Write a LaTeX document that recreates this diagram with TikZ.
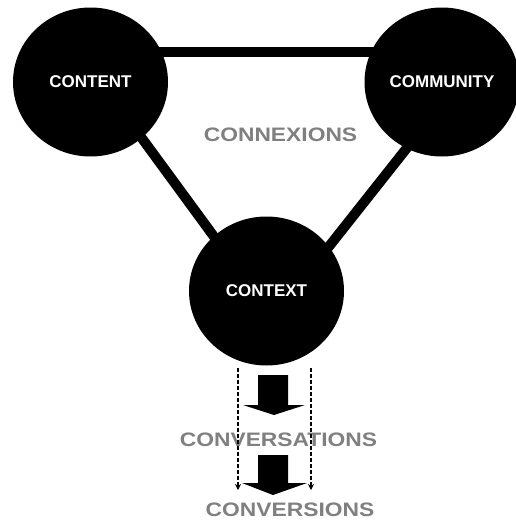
\documentclass[tikz,border=0pt]{standalone}
\usepackage{fontspec}
\setmainfont{Liberation Sans}
\usetikzlibrary{shapes.geometric,arrows.meta,backgrounds}
\definecolor{labelgray}{RGB}{128,128,128}
\begin{document}
\begin{tikzpicture}[x=1pt,y=-1pt,
  hub/.style={ellipse, fill=black, minimum width=155pt, minimum height=149pt,
    inner sep=0pt, text=white, font=\fontsize{17}{17}\selectfont\bfseries},
  link/.style={line width=10pt},
  stage/.style={text=labelgray, font=\fontsize{19.5}{19.5}\selectfont\bfseries,
    xscale=1.17, inner sep=0pt},
  guide/.style={line width=1.8pt, dash pattern=on 4pt off 2pt,
    -{Stealth[length=6pt,width=6pt]}},
  flow/.style={fill=black}
]
\useasboundingbox (0,0) rectangle (515,522);

% the three hubs
\node[hub] (content)   at (90.5,82)  {CONTENT};
\node[hub] (community) at (442,82)   {COMMUNITY};
\node[hub] (context)   at (266.5,291) {CONTEXT};

% ends of the triangle sides, inside the hubs
\coordinate (topA)   at (90,52);
\coordinate (topB)   at (442,52);
\coordinate (leftA)  at (119,107);
\coordinate (leftB)  at (237,268);
\coordinate (rightA) at (429,120);
\coordinate (rightB) at (308,273);

\begin{pgfonlayer}{background}
  \fill[white] (0,0) rectangle (515,522);
  \draw[link] (topA) -- (topB);
  \draw[link] (leftA) -- (leftB);
  \draw[link] (rightA) -- (rightB);
\end{pgfonlayer}

% grey stage labels
\node[stage] (connexions)    at (280.5,135) {CONNEXIONS};
\node[stage] (conversations) at (278.5,440) {CONVERSATIONS};
\node[stage] (conversions)   at (290,510)   {CONVERSIONS};

% block arrows
\fill[flow] (258,375) -- (288,375) -- (288,405) -- (305,405) -- (274,415)
  -- (243,405) -- (258,405) -- cycle;
\fill[flow] (258,455) -- (288,455) -- (288,483) -- (307,483) -- (273,495)
  -- (242,483) -- (258,483) -- cycle;

% dashed guide lines
\coordinate (guideL0) at (238,368);
\coordinate (guideL1) at (238,490);
\coordinate (guideR0) at (311,368);
\coordinate (guideR1) at (311,490);
\draw[guide] (guideL0) -- (guideL1);
\draw[guide] (guideR0) -- (guideR1);
\end{tikzpicture}
\end{document}
